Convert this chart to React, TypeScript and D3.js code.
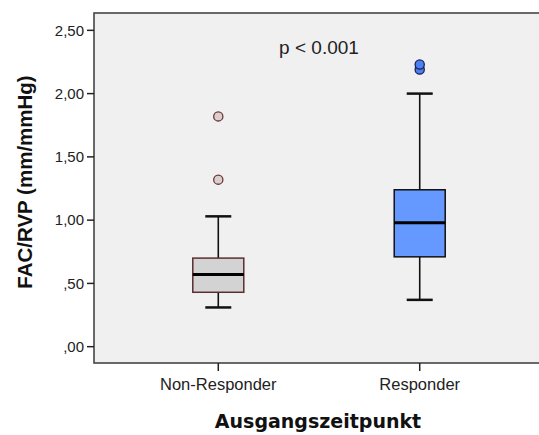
import React from "react";
import * as d3 from "d3";

// Group names on the x axis
const categories = ["Non-Responder", "Responder"];

// Five-number summaries per group (FAC/RVP, mm/mmHg)
const whiskerLow = [0.31, 0.37];
const quartile1 = [0.43, 0.71];
const medians = [0.57, 0.98];
const quartile3 = [0.7, 1.24];
const whiskerHigh = [1.03, 2.0];

// Outlying observations per group
const outliers = [
  [1.32, 1.82],
  [2.19, 2.23],
];

// Y axis ticks and their German-formatted labels
const yTicks = [2.5, 2.0, 1.5, 1.0, 0.5, 0.0];
const yTickLabels = ["2,50", "2,00", "1,50", "1,00", ",50", ",00"];

const annotation = "p < 0.001";
const yTitle = "FAC/RVP (mm/mmHg)";
const xTitle = "Ausgangszeitpunkt";

const W = 539;
const H = 435;
const frame = { left: 94, top: 13, right: 544, bottom: 363 };

const boxFill = ["#d3d3d3", "#6699ff"];
const boxStroke = ["#5c2e2e", "#111111"];
const outlierFill = ["#d9cfcf", "#4d80f5"];
const outlierStroke = ["#6e3434", "#1a2350"];

export default function App() {
  const y = d3
    .scaleLinear()
    .domain([-0.129, 2.637])
    .range([frame.bottom, frame.top]);
  const x = d3
    .scalePoint<string>()
    .domain(categories)
    .range([frame.left, frame.right])
    .padding(0.617);

  const boxW = 51;
  const capW = 26;
  const sans = "Arial, 'Liberation Sans', sans-serif";

  return (
    <svg
      width={W}
      height={H}
      style={{ position: "absolute", left: 0, top: 0, background: "#ffffff" }}
    >
      <rect
        x={frame.left}
        y={frame.top}
        width={frame.right - frame.left}
        height={frame.bottom - frame.top}
        fill="#f0f0f0"
        stroke="#3a3a3a"
        strokeWidth={1.5}
      />

      {/* y axis ticks */}
      {yTicks.map((t, i) => (
        <g key={t}>
          <line
            x1={frame.left - 7}
            x2={frame.left}
            y1={y(t)}
            y2={y(t)}
            stroke="#222"
            strokeWidth={1.5}
          />
          <text
            x={frame.left - 10}
            y={y(t)}
            dy="0.35em"
            textAnchor="end"
            fontFamily={sans}
            fontSize={15}
            fill="#222"
          >
            {yTickLabels[i]}
          </text>
        </g>
      ))}

      {/* x axis ticks */}
      {categories.map((c) => (
        <g key={c}>
          <line
            x1={x(c)}
            x2={x(c)}
            y1={frame.bottom}
            y2={frame.bottom + 8}
            stroke="#222"
            strokeWidth={1.5}
          />
          <text
            x={x(c)}
            y={frame.bottom + 27}
            textAnchor="middle"
            fontFamily={sans}
            fontSize={16.5}
            fill="#222"
          >
            {c}
          </text>
        </g>
      ))}

      {/* boxes */}
      {categories.map((c, i) => {
        const cx = x(c) as number;
        return (
          <g key={c}>
            <line x1={cx} x2={cx} y1={y(whiskerHigh[i])} y2={y(quartile3[i])} stroke="#111" strokeWidth={1.6} />
            <line x1={cx} x2={cx} y1={y(quartile1[i])} y2={y(whiskerLow[i])} stroke="#111" strokeWidth={1.6} />
            <line x1={cx - capW / 2} x2={cx + capW / 2} y1={y(whiskerHigh[i])} y2={y(whiskerHigh[i])} stroke="#111" strokeWidth={2.5} />
            <line x1={cx - capW / 2} x2={cx + capW / 2} y1={y(whiskerLow[i])} y2={y(whiskerLow[i])} stroke="#111" strokeWidth={2.5} />
            <rect
              x={cx - boxW / 2}
              y={y(quartile3[i])}
              width={boxW}
              height={y(quartile1[i]) - y(quartile3[i])}
              fill={boxFill[i]}
              stroke={boxStroke[i]}
              strokeWidth={1.5}
            />
            <line
              x1={cx - boxW / 2}
              x2={cx + boxW / 2}
              y1={y(medians[i])}
              y2={y(medians[i])}
              stroke="#000"
              strokeWidth={3}
            />
            {outliers[i].map((v) => (
              <circle
                key={v}
                cx={cx}
                cy={y(v)}
                r={4.6}
                fill={outlierFill[i]}
                stroke={outlierStroke[i]}
                strokeWidth={1.3}
              />
            ))}
          </g>
        );
      })}

      <text
        x={(frame.left + frame.right) / 2}
        y={54}
        textAnchor="middle"
        fontFamily={sans}
        fontSize={19}
        fill="#222"
      >
        {annotation}
      </text>

      <text
        transform={`translate(32, ${(frame.top + frame.bottom) / 2 - 6}) rotate(-90)`}
        textAnchor="middle"
        fontFamily={sans}
        fontWeight="bold"
        fontSize={20.5}
        fill="#111"
      >
        {yTitle}
      </text>

      <text
        x={318}
        y={428}
        textAnchor="middle"
        fontFamily="'DejaVu Sans', Verdana, sans-serif"
        fontWeight="bold"
        fontSize={19}
        fill="#111"
      >
        {xTitle}
      </text>
    </svg>
  );
}
